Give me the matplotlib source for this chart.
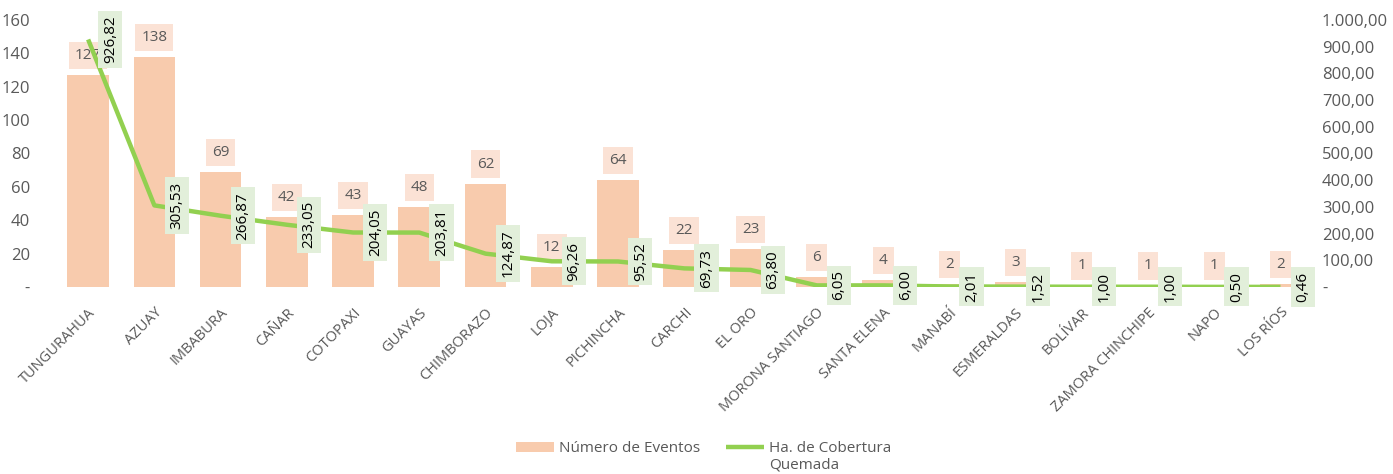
import matplotlib.pyplot as plt
from matplotlib.ticker import FuncFormatter

plt.rcParams["font.family"] = ["Open Sans", "DejaVu Sans"]

provincias = ["TUNGURAHUA", "AZUAY", "IMBABURA", "CAÑAR", "COTOPAXI", "GUAYAS",
              "CHIMBORAZO", "LOJA", "PICHINCHA", "CARCHI", "EL ORO", "MORONA SANTIAGO",
              "SANTA ELENA", "MANABÍ", "ESMERALDAS", "BOLÍVAR", "ZAMORA CHINCHIPE",
              "NAPO", "LOS RÍOS"]
eventos = [127, 138, 69, 42, 43, 48, 62, 12, 64, 22, 23, 6, 4, 2, 3, 1, 1, 1, 2]
hectareas = [926.82, 305.53, 266.87, 233.05, 204.05, 203.81, 124.87, 96.26, 95.52,
             69.73, 63.80, 6.05, 6.00, 2.01, 1.52, 1.00, 1.00, 0.50, 0.46]

BAR_COLOR = "#F8CBAD"
LINE_COLOR = "#92D050"
TEXT_COLOR = "#595959"


def es_num(v, dec=2):
    # formato numérico estilo español: 1.000,00
    s = f"{v:,.{dec}f}"
    return s.replace(",", "X").replace(".", ",").replace("X", ".")


fig, ax = plt.subplots(figsize=(13.93, 4.74), dpi=100)
fig.subplots_adjust(left=0.0395, right=0.943, bottom=0.3945, top=0.958)
ax2 = ax.twinx()

x = list(range(len(provincias)))
bars = ax.bar(x, eventos, width=0.63, color=BAR_COLOR, label="Número de Eventos", zorder=1)
line, = ax2.plot(x, hectareas, color=LINE_COLOR, lw=3.2, label="Ha. de Cobertura",
                 solid_capstyle="butt", zorder=2)

ax.set_zorder(1)
ax2.set_zorder(2)
ax.patch.set_visible(False)

ax.set_xlim(-0.5, len(provincias) - 0.5)
ax.set_ylim(0, 160)
ax2.set_ylim(0, 1000)
ax.set_yticks(range(0, 161, 20))
ax2.set_yticks(range(0, 1001, 100))
ax.yaxis.set_major_formatter(FuncFormatter(lambda v, p: "-" if v == 0 else f"{v:.0f}"))
ax2.yaxis.set_major_formatter(FuncFormatter(lambda v, p: "-" if v == 0 else es_num(v)))

ax.set_xticks(x)
ax.set_xticklabels(provincias, rotation=45, ha="right", rotation_mode="anchor",
                   fontsize=10.5, color=TEXT_COLOR)
ax.tick_params(axis="x", length=0, pad=13)
ax.tick_params(axis="y", length=0, labelsize=12, labelcolor=TEXT_COLOR, pad=18)
ax2.tick_params(axis="y", length=0, labelsize=12, labelcolor=TEXT_COLOR, pad=6)

for a in (ax, ax2):
    for s in a.spines.values():
        s.set_visible(False)

for xi, v in zip(x, eventos):
    ax.annotate(str(v), (xi, v), xytext=(0, 14), textcoords="offset points",
                ha="center", va="center", fontsize=11, color=TEXT_COLOR,
                bbox=dict(boxstyle="square,pad=0.4", fc="#FBE2D5", ec="none"),
                zorder=3)

for xi, v in zip(x, hectareas):
    ax2.annotate(es_num(v), (xi, v), xytext=(16, 0), textcoords="offset points",
                 ha="center", va="center", rotation=90, fontsize=11, color="black",
                 bbox=dict(boxstyle="square,pad=0.3", fc="#E2EFDA", ec="none"),
                 zorder=4)

leg = fig.legend(handles=[bars, line], loc="center", bbox_to_anchor=(0.505, 0.053),
                 ncol=2, frameon=False, fontsize=11, labelcolor=TEXT_COLOR,
                 handlelength=2.5, columnspacing=1.7, handletextpad=0.3)
# segunda línea de la etiqueta de la serie de línea
fig.text(769 / 1393, 0.018, "Quemada", fontsize=11, color=TEXT_COLOR,
         ha="left", va="center")

fig.savefig("out.png", dpi=100)
